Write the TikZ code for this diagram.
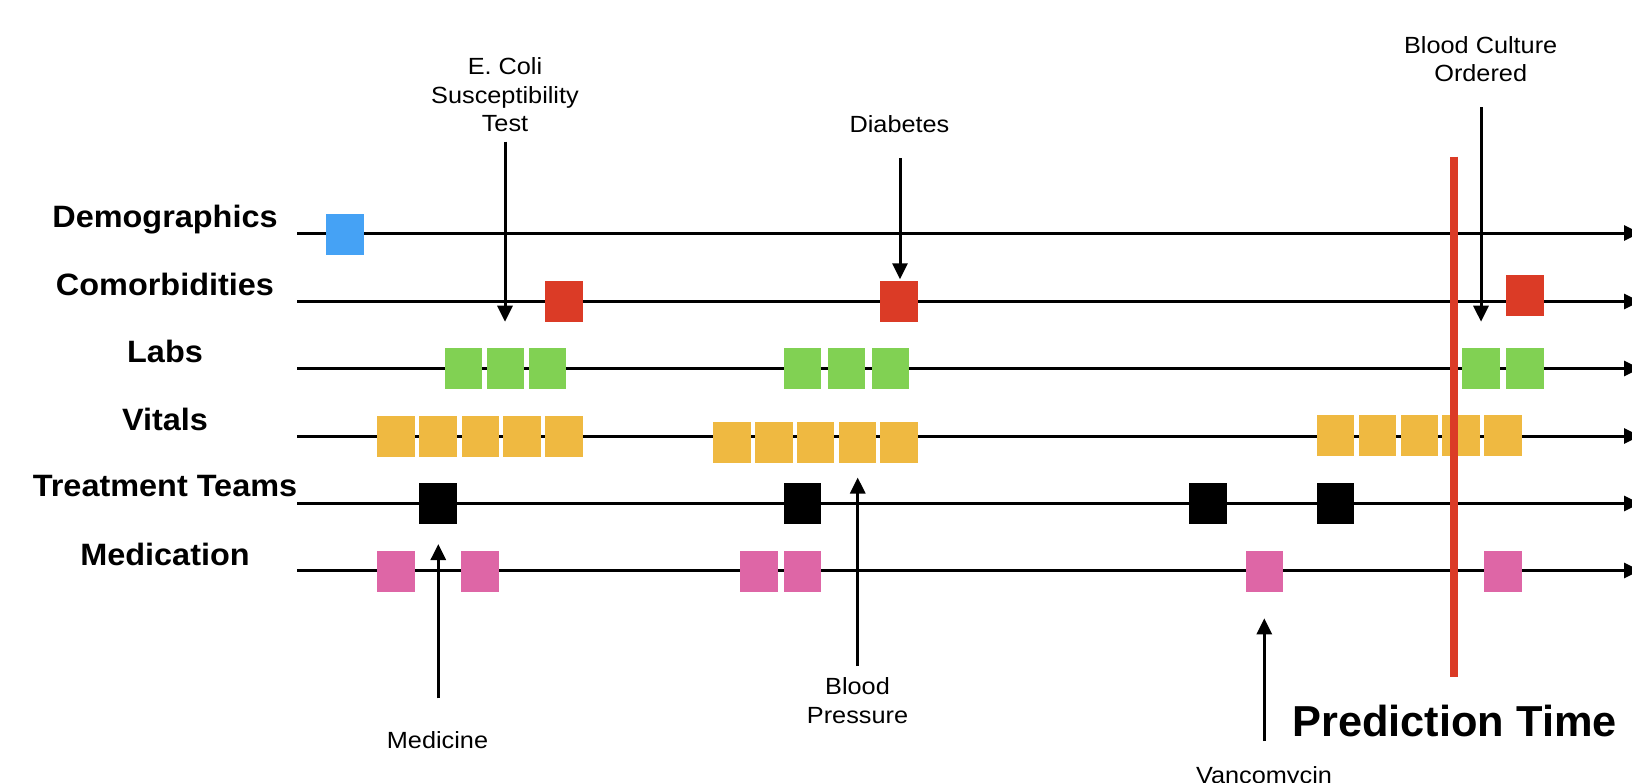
\documentclass[tikz,border=0pt]{standalone}
\usepackage{fontspec}
\setmainfont{Liberation Sans}
\newfontfamily\catfont{Liberation Sans}[FakeStretch=1.05]
\newfontfamily\notefont{Liberation Sans}[FakeStretch=1.08]
\usetikzlibrary{arrows.meta}
\definecolor{evblue}{HTML}{45A2F5}
\definecolor{evred}{HTML}{DB3B26}
\definecolor{evgreen}{HTML}{81D153}
\definecolor{evyellow}{HTML}{EFB941}
\definecolor{evpink}{HTML}{DE66A6}
\definecolor{evblack}{HTML}{000000}
\tikzset{
  sqbox/.style={rectangle, inner sep=0pt, minimum width=37.5bp, minimum height=41bp, draw=none},
  tline/.style={line width=3bp, -{Triangle[length=16bp,width=15bp]}},
  callout/.style={line width=3bp, -{Triangle[length=16bp,width=15bp]}},
  predline/.style={line width=8.3bp, draw=evred},
  catlabel/.style={anchor=base, inner sep=0pt, font=\catfont\bfseries\fontsize{31}{36}\selectfont},
  note/.style={anchor=base, inner sep=0pt, align=center, font=\notefont\fontsize{23.5}{28.8}\selectfont},
  bignote/.style={anchor=base, inner sep=0pt, font=\bfseries\fontsize{43.5}{50}\selectfont},
}
\newcommand\evsq[4]{\node[sqbox, fill=#2] (#1) at (#3,#4) {};}
\begin{document}
\begin{tikzpicture}[x=1bp, y=-1bp]
\useasboundingbox (0,0) rectangle (1632,783);
\clip (0,0) rectangle (1632,783);

% row labels
\node[catlabel] (lDem)  at (165,227.7) {Demographics};
\node[catlabel] (lCom)  at (165,295)   {Comorbidities};
\node[catlabel] (lLab)  at (165,362.3) {Labs};
\node[catlabel] (lVit)  at (165,430)   {Vitals};
\node[catlabel] (lTre)  at (165,496.7) {Treatment Teams};
\node[catlabel] (lMed)  at (165,565.7) {Medication};

% timelines
\foreach \n/\y in {1/233,2/301.5,3/368.5,4/436,5/503.5,6/570.5}{
  \coordinate (ts\n) at (297,\y);
  \coordinate (te\n) at (1640,\y);
  \draw[tline] (ts\n) -- (te\n);
}

% demographics
\evsq{d1}{evblue}{345}{234}
% comorbidities
\evsq{c1}{evred}{564}{301.2}
\evsq{c2}{evred}{899}{301.2}
\evsq{c3}{evred}{1525}{295}
% labs
\evsq{l1}{evgreen}{463.5}{368.5}
\evsq{l2}{evgreen}{505.5}{368.5}
\evsq{l3}{evgreen}{547.3}{368.5}
\evsq{l4}{evgreen}{802.5}{368}
\evsq{l5}{evgreen}{846.5}{368}
\evsq{l6}{evgreen}{890.5}{368}
\evsq{l7}{evgreen}{1481}{368}
\evsq{l8}{evgreen}{1525}{368}
% vitals
\evsq{v1}{evyellow}{395.8}{436}
\evsq{v2}{evyellow}{438.2}{436}
\evsq{v3}{evyellow}{480.3}{436}
\evsq{v4}{evyellow}{522}{436}
\evsq{v5}{evyellow}{564}{436}
\evsq{v6}{evyellow}{731.8}{442}
\evsq{v7}{evyellow}{773.8}{442}
\evsq{v8}{evyellow}{815.5}{442}
\evsq{v9}{evyellow}{857.5}{442}
\evsq{v10}{evyellow}{899.2}{442}
\evsq{v11}{evyellow}{1335.5}{435.5}
\evsq{v12}{evyellow}{1377.3}{435.5}
\evsq{v13}{evyellow}{1419.3}{435.5}
\evsq{v14}{evyellow}{1461}{435.5}
\evsq{v15}{evyellow}{1503}{435.5}
% treatment teams
\evsq{t1}{evblack}{438}{503.5}
\evsq{t2}{evblack}{802.5}{503.5}
\evsq{t3}{evblack}{1208}{503.5}
\evsq{t4}{evblack}{1335.5}{503.5}
% medication
\evsq{m1}{evpink}{396}{571.2}
\evsq{m2}{evpink}{480}{571.2}
\evsq{m3}{evpink}{759}{571.2}
\evsq{m4}{evpink}{802.5}{571.2}
\evsq{m5}{evpink}{1264.5}{571.2}
\evsq{m6}{evpink}{1503}{571.2}

% annotations (base = baseline of the last line)
\node[note] (nEcoli) at (505,131.7) {E. Coli\\Susceptibility\\Test};
\node[note] (nDiab)  at (899.5,132.3) {Diabetes};
\node[note] (nBC)    at (1480.7,81.7) {Blood Culture\\Ordered};
\node[note] (nBP)    at (857.5,723.3) {Blood\\Pressure};
\node[note] (nMedi)  at (437.5,748.3) {Medicine};
\node[note] (nVanc)  at (1264,783) {Vancomycin};

\coordinate (aEcS) at (505,141.7);   \coordinate (aEcE) at (505,321.7);
\coordinate (aDiS) at (900,158.3);   \coordinate (aDiE) at (900,279.3);
\coordinate (aBcS) at (1481,107);    \coordinate (aBcE) at (1481,321.7);
\coordinate (aMeS) at (438.3,698.3); \coordinate (aMeE) at (438.3,544);
\coordinate (aBpS) at (857.7,666);   \coordinate (aBpE) at (857.7,477.5);
\coordinate (aVaS) at (1264.3,741);  \coordinate (aVaE) at (1264.3,618.3);

\draw[callout] (aEcS) -- (aEcE);
\draw[callout] (aDiS) -- (aDiE);
\draw[callout] (aBcS) -- (aBcE);
\draw[callout] (aMeS) -- (aMeE);
\draw[callout] (aBpS) -- (aBpE);
\draw[callout] (aVaS) -- (aVaE);

% prediction time
\coordinate (pTop) at (1454,156.7);
\coordinate (pBot) at (1454,676.7);
\draw[predline] (pTop) -- (pBot);
\node[bignote] (nPred) at (1454.5,736) {Prediction Time};
\end{tikzpicture}
\end{document}
